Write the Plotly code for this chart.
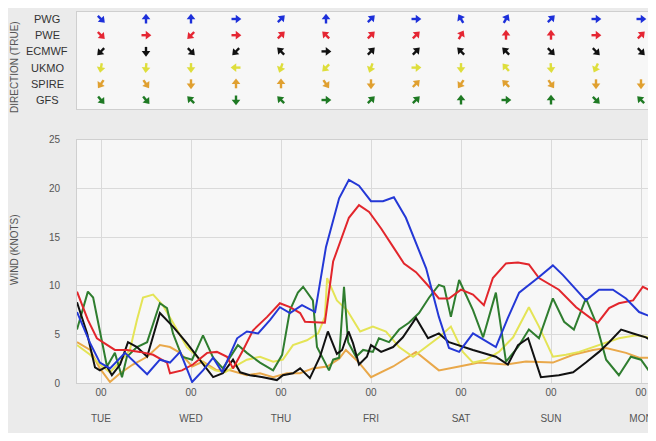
import math
import plotly.graph_objects as go

# ---------------- data ----------------
day_labels = ["TUE", "WED", "THU", "FRI", "SAT", "SUN", "MON"]
day_hours = [0, 24, 48, 72, 96, 120, 144]

models = ["GFS", "SPIRE", "UKMO", "ECMWF", "PWE", "PWG"]  # bottom -> top rows
arrow_hours = [0, 12, 24, 36, 48, 60, 72, 84, 96, 108, 120, 132, 144]
# direction each arrow points (degrees clockwise from up); None = not shown
dir_pwg = [135, 0, 0, 90, 45, 0, 45, 90, 330, 30, 45, 90, 90]
dir_pwe = [135, 90, 225, 90, 45, 315, 45, 45, 30, 0, 0, 90, 45]
dir_ecmwf = [225, 180, 135, 225, 315, 90, 45, 45, 315, 315, 135, 135, 135]
dir_ukmo = [190, 185, 180, 270, 200, 225, 200, 90, 180, 320, 175, 205, None]
dir_spire = [215, 145, 180, 0, 0, 145, 180, 45, 215, 315, 145, 180, 180]
dir_gfs = [140, 140, 315, 180, 315, 90, 45, 45, 0, 90, 0, 135, 315]

pwg_h = [-6.4, -2.9, -0.3, 2.4, 6.4, 12.3, 15.7, 18.4, 21.1, 24.3, 27.2, 29.9, 32.3, 36.3, 38.9,
         41.9, 45.1, 47.7, 50.4, 53.6, 57.1, 58.4, 60.0, 63.5, 66.1, 68.8, 72.0, 75.2, 78.1, 81.3,
         84.0, 86.7, 88.0, 90.1, 92.8, 95.5, 99.2, 102.1, 105.3, 108.5, 111.5, 116.8, 120.5, 123.2,
         126.1, 129.3, 132.8, 136.5, 140.0, 143.5, 147.5]
pwg_v = [7.3, 4.1, 2.1, 1.5, 3.1, 0.9, 2.4, 2.1, 3.2, 0.1, 1.3, 2.6, 1.1, 4.6, 5.3,
         5.1, 6.5, 7.8, 7.2, 8.0, 7.3, 10.3, 14.0, 19.0, 20.9, 20.3, 18.7, 18.7, 19.1, 17.0,
         14.4, 11.8, 9.9, 6.8, 3.6, 3.2, 5.1, 4.4, 3.7, 6.7, 9.3, 10.9, 12.1, 11.1,
         9.9, 8.5, 9.6, 9.6, 8.7, 7.3, 6.7]

pwe_h = [-6.4, -3.5, -1.1, 1.6, 3.7, 6.9, 10.4, 13.9, 17.6, 18.4, 21.6, 24.5, 28.3, 30.9, 33.6,
         35.2, 37.9, 40.5, 44.3, 47.7, 50.4, 53.1, 54.4, 59.7, 61.9, 66.1, 68.8, 71.5, 74.7, 77.9,
         80.8, 84.0, 86.7, 87.5, 90.1, 92.8, 96.0, 99.2, 102.1, 104.5, 108.0, 111.2, 114.1, 116.8,
         122.1, 126.7, 131.2, 132.5, 135.5, 138.1, 141.9, 144.5, 147.5]
pwe_v = [9.4, 6.5, 4.6, 3.9, 3.4, 3.4, 3.2, 2.9, 2.1, 1.0, 1.3, 1.9, 3.1, 3.2, 2.7,
         1.5, 3.4, 5.4, 6.8, 8.2, 7.8, 7.2, 6.3, 6.2, 12.5, 17.0, 18.3, 17.6, 15.9, 14.0,
         12.3, 11.4, 10.3, 9.9, 8.7, 8.7, 9.6, 9.1, 8.0, 10.8, 12.3, 12.4, 12.2, 10.8,
         9.6, 7.8, 6.5, 6.2, 7.7, 8.2, 8.5, 9.9, 9.3]

gfs_h = [-6.4, -3.5, -2.1, -0.3, 1.6, 3.7, 5.6, 6.9, 9.6, 12.3, 15.7, 17.6, 19.2, 21.6, 24.3,
         27.2, 29.9, 32.5, 36.5, 38.9, 42.4, 45.9, 48.3, 50.4, 52.5, 53.9, 56.5, 57.6, 60.8, 61.9,
         63.5, 64.8, 65.9, 68.0, 69.9, 72.5, 74.1, 76.8, 79.5, 82.1, 84.8, 87.5, 90.1, 91.5, 93.3,
         95.5, 99.2, 101.9, 105.3, 108.0, 111.2, 114.1, 116.8, 120.5, 123.5, 126.1, 129.3, 132.0,
         134.7, 138.1, 141.3, 144.0, 147.5]
gfs_v = [5.5, 9.4, 8.8, 5.5, 1.7, 3.1, 0.6, 2.7, 3.7, 4.2, 8.2, 7.7, 5.1, 2.7, 2.4,
         4.9, 2.6, 1.5, 3.9, 3.1, 2.1, 1.3, 2.9, 7.5, 9.3, 9.9, 8.5, 3.7, 1.3, 2.4,
         2.6, 9.9, 4.2, 2.7, 3.4, 3.2, 4.6, 4.2, 5.5, 6.2, 7.2, 8.8, 10.1, 9.9, 6.8,
         10.6, 7.5, 4.7, 9.3, 2.2, 3.7, 5.5, 4.6, 8.7, 6.3, 5.5, 8.7, 6.2,
         2.4, 0.8, 2.7, 2.4, 0.5]

ecmwf_h = [-6.4, -3.7, -1.6, -0.3, 1.6, 2.9, 5.1, 7.2, 9.6, 12.3, 15.7, 19.2, 22.9, 26.4, 29.9,
           32.5, 35.2, 37.1, 39.7, 43.2, 46.9, 48.5, 51.2, 53.1, 55.7, 58.4, 60.5, 62.9, 64.3, 66.0,
           67.2, 68.8, 70.9, 72.0, 74.7, 77.9, 80.5, 84.0, 87.2, 90.1, 92.8, 99.2, 105.3, 108.5,
           111.2, 113.9, 117.3, 122.1, 125.9, 129.3, 132.8, 135.5, 138.7, 141.9, 145.3, 147.5]
ecmwf_v = [8.3, 5.1, 1.6, 1.3, 1.7, 0.8, 1.9, 4.2, 3.7, 2.7, 7.2, 5.8, 4.1, 2.4, 0.6,
           1.0, 2.4, 1.1, 0.8, 0.6, 0.3, 0.8, 1.0, 1.5, 0.5, 2.7, 5.3, 3.0, 3.4, 5.3,
           4.1, 1.9, 2.7, 3.9, 3.2, 3.7, 4.7, 6.7, 4.6, 5.1, 4.2, 3.4, 2.7, 1.9,
           3.9, 4.6, 0.6, 0.8, 1.1, 2.1, 3.2, 4.2, 5.5, 5.1, 4.7, 4.2]

ukmo_h = [-6.4, -2.9, -0.3, 2.4, 5.1, 7.7, 9.6, 11.2, 13.9, 16.5, 19.2, 22.9, 25.1, 27.7, 30.4,
          33.1, 35.2, 38.9, 42.4, 45.9, 48.5, 51.2, 54.9, 57.9, 59.7, 60.3, 62.9, 65.6, 69.1, 72.5,
          76.0, 79.5, 83.2, 86.7, 90.1, 93.3, 96.5, 99.2, 102.7, 106.1, 109.9, 114.1, 116.8, 120.5,
          124.0, 127.5, 131.2, 134.7, 138.1, 142.7, 145.3, 147.5]
ukmo_v = [3.9, 2.9, 1.9, 1.1, 2.2, 3.4, 6.5, 8.8, 9.1, 8.0, 6.2, 3.7, 2.9, 1.9, 1.3,
          1.1, 1.6, 2.4, 2.7, 2.2, 2.4, 3.9, 4.4, 5.1, 6.8, 10.8, 8.5, 7.5, 5.3, 5.8,
          5.3, 3.7, 2.7, 3.7, 4.7, 5.8, 3.2, 2.1, 2.4, 3.2, 4.7, 7.8, 5.8, 2.7,
          2.9, 3.2, 3.7, 4.1, 4.6, 4.9, 4.7, 4.6]

spire_h = [-6.4, -2.9, -0.3, 2.4, 5.1, 8.5, 12.3, 15.7, 18.4, 21.1, 24.3, 27.2, 30.9, 34.4, 38.9,
           42.4, 45.9, 49.6, 53.1, 56.5, 60.3, 63.5, 65.3, 68.8, 72.0, 77.9, 84.0, 90.1, 95.5,
           100.8, 108.0, 113.3, 120.5, 125.9, 131.2, 134.7, 140.0, 143.5, 147.5]
spire_v = [4.2, 3.4, 1.5, 0.1, 1.0, 1.9, 2.7, 3.9, 3.7, 3.1, 1.7, 2.2, 1.3, 1.3, 0.8,
           1.0, 0.6, 1.0, 1.0, 1.5, 1.7, 2.5, 3.4, 2.1, 0.6, 1.7, 3.2, 1.3, 1.7,
           2.1, 1.9, 2.2, 2.1, 2.9, 3.4, 3.6, 3.1, 2.6, 2.6]

# ---------------- geometry (the page body adds an 8px offset) ----------------
W, H = 656, 425
ML, MR, MT, MB = 69, 8, 4, 50
PLOT_W = W - ML - MR            # 579
PLOT_H = H - MT - MB            # 371
TOP_DOM = [0.7385, 1.0]
LOW_DOM = [0.0, 0.655]
XR = [-6.4, 148.0]
Y2R = [-0.556, 5.432]
# data units per pixel in the direction panel
DX = (XR[1] - XR[0]) / PLOT_W
DY = (Y2R[1] - Y2R[0]) / (PLOT_H * (TOP_DOM[1] - TOP_DOM[0]))


def wx(px_from_plot_left):
    return px_from_plot_left / PLOT_W


FONT = "Liberation Sans, Arial, sans-serif"
C_BLUE = "#2438d6"
C_RED = "#e2262c"
C_BLACK = "#111111"
C_YELLOW = "#e4e456"
C_ORANGE = "#e9a84a"
C_GREEN = "#2f7d2f"

fig = go.Figure()

series = [
    ("SPIRE", spire_h, spire_v, C_ORANGE),
    ("UKMO", ukmo_h, ukmo_v, C_YELLOW),
    ("GFS", gfs_h, gfs_v, C_GREEN),
    ("ECMWF", ecmwf_h, ecmwf_v, C_BLACK),
    ("PWE", pwe_h, pwe_v, C_RED),
    ("PWG", pwg_h, pwg_v, C_BLUE),
]
for name, hx, vy, col in series:
    fig.add_trace(go.Scatter(x=hx, y=vy, mode="lines", name=name,
                             line=dict(color=col, width=2), xaxis="x", yaxis="y",
                             hoverinfo="skip"))

# direction arrows: stem line + triangle head, rotated to the direction
arrow_rows = [
    (dir_gfs, "#1f7a24"), (dir_spire, "#e0a030"), (dir_ukmo, "#dede3c"),
    (dir_ecmwf, "#111111"), (dir_pwe, "#e52633"), (dir_pwg, "#1d30da"),
]
for row, (dirs, col) in enumerate(arrow_rows):
    sx_, sy_, hx_, hy_, ang = [], [], [], [], []
    for h, d in zip(arrow_hours, dirs):
        if d is None:
            continue
        r = math.radians(d)
        ux, uy = math.sin(r), math.cos(r)
        sx_ += [h - 4.5 * ux * DX, h + 0.5 * ux * DX, None]
        sy_ += [row - 4.5 * uy * DY, row + 0.5 * uy * DY, None]
        hx_.append(h + 1.6 * ux * DX)
        hy_.append(row + 1.6 * uy * DY)
        ang.append(d)
    fig.add_trace(go.Scatter(x=sx_, y=sy_, mode="lines", line=dict(color=col, width=2.4),
                             xaxis="x2", yaxis="y2", hoverinfo="skip"))
    fig.add_trace(go.Scatter(x=hx_, y=hy_, mode="markers",
                             marker=dict(symbol="triangle-up", size=7.5, color=col, angle=ang,
                                         line=dict(width=0)),
                             xaxis="x2", yaxis="y2", hoverinfo="skip"))

fig.update_layout(
    width=W, height=H,
    margin=dict(l=ML, r=MR, t=MT, b=MB, autoexpand=False),
    paper_bgcolor="#ebebeb",
    plot_bgcolor="#f7f7f7",
    showlegend=False,
    font=dict(family=FONT, size=10, color="#555555"),
    xaxis=dict(domain=[0, 1], range=XR, tickvals=day_hours,
               ticktext=["00<br><br>" + d for d in day_labels],
               showgrid=True, gridcolor="#dadada", gridwidth=1, automargin=False,
               zeroline=False, showline=True, linecolor="#cfcfcf", mirror=True,
               ticks="", ticklabeloverflow="allow",
               tickfont=dict(size=10, color="#555555")),
    yaxis=dict(domain=LOW_DOM, range=[0, 25], tickvals=[0, 5, 10, 15, 20, 25],
               showgrid=True, gridcolor="#dadada", zeroline=False, automargin=False,
               showline=True, linecolor="#cfcfcf", mirror=True,
               ticks="", ticklabelstandoff=14, tickfont=dict(size=10, color="#555555")),
    xaxis2=dict(domain=[0, 1], range=XR, anchor="y2", showticklabels=False,
                showgrid=False, zeroline=False, showline=True, linecolor="#cfcfcf",
                mirror=True, ticks="", automargin=False),
    yaxis2=dict(domain=TOP_DOM, range=Y2R, anchor="x2",
                showticklabels=False, showgrid=False, zeroline=False, automargin=False,
                showline=True, linecolor="#cfcfcf", mirror=True, ticks=""),
)

anns = []
# row labels of the direction panel (centred at window x≈47 -> 30px left of plot)
for i, m in enumerate(models):
    anns.append(dict(x=wx(-30), xref="paper", y=i, yref="y2", text=m, showarrow=False,
                     xanchor="center", yanchor="middle",
                     font=dict(size=11, color="#333333", family=FONT)))

# axis titles
anns.append(dict(x=wx(-63), xref="paper", xanchor="center", y=(383 - 67) / 371, yref="paper",
                 yanchor="middle", text="DIRECTION (TRUE)", textangle=-90, showarrow=False,
                 font=dict(size=10, color="#555555", family=FONT)))
anns.append(dict(x=wx(-63), xref="paper", xanchor="center", y=(383 - 250) / 371, yref="paper",
                 yanchor="middle", text="WIND (KNOTS)", textangle=-90, showarrow=False,
                 font=dict(size=10, color="#555555", family=FONT)))

fig.update_layout(annotations=anns)
fig.write_html("out.html")
